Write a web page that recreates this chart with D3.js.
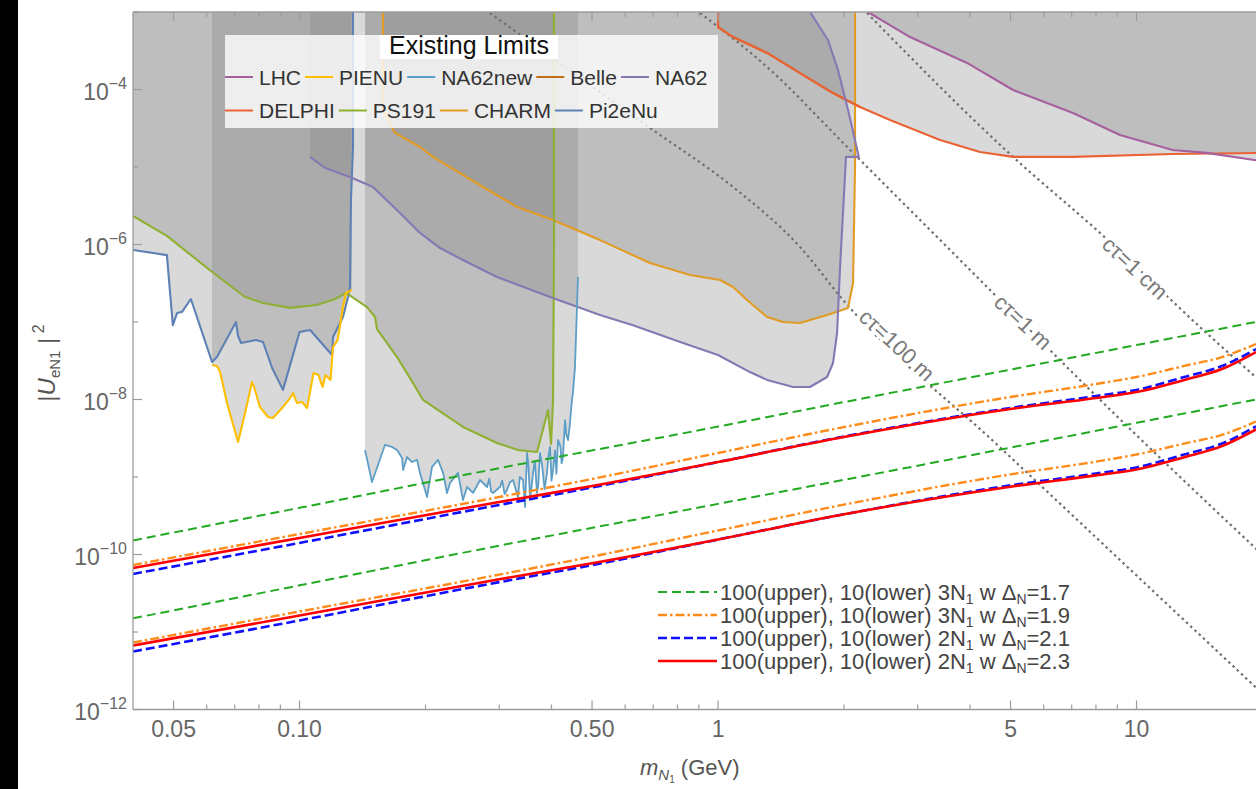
<!DOCTYPE html>
<html>
<head>
<meta charset="utf-8">
<script src="https://cdn.jsdelivr.net/npm/d3@7"></script>
<style>
  body { margin: 0; background: #fff; }
  text { font-family: "Liberation Sans", Arial, sans-serif; }
</style>
</head>
<body>
<svg id="chart" width="1256" height="789"></svg>
<script>
// ---- existing limits, [mass GeV, |U|^2] ----
const pi2eNu = [
  [0.04, 8.5e-7], [0.0482, 7.3e-7], [0.0498, 9.1e-8], [0.051, 1.31e-7], [0.0524, 1.35e-7],
  [0.055, 1.98e-7], [0.0618, 3.05e-8], [0.0635, 3.53e-8], [0.0705, 1.0e-7], [0.0713, 6.6e-8],
  [0.0725, 5.36e-8], [0.0787, 5.86e-8], [0.0818, 5.52e-8], [0.086, 2.55e-8], [0.0913, 1.33e-8],
  [0.1, 7.43e-8], [0.106, 7.88e-8], [0.1196, 3.75e-8], [0.1202, 6.4e-8], [0.127, 1.16e-7],
  [0.1306, 2.1e-7], [0.132, 2.83e-7], [0.1327, 3.75e-6], [0.1342, 1.81e-5], [0.1342, 1e-3]
];
const pienu = [
  [0.0618, 2.79e-8], [0.0635, 2.7e-8], [0.0646, 2.26e-8], [0.0671, 9.0e-9], [0.0713, 2.83e-9],
  [0.0741, 6.7e-9], [0.077, 1.68e-8], [0.0779, 1.45e-8], [0.0804, 8.0e-9], [0.0841, 5.94e-9],
  [0.0864, 5.77e-9], [0.0913, 8.0e-9], [0.0949, 1.04e-8], [0.0965, 1.21e-8], [0.0986, 9.0e-9],
  [0.1014, 9.3e-9], [0.1042, 7.76e-9], [0.108, 2.2e-8], [0.111, 2.07e-8], [0.1135, 1.45e-8],
  [0.1153, 2.07e-8], [0.1186, 1.79e-8], [0.1202, 4.75e-8], [0.1233, 5.86e-8], [0.127, 1.56e-7],
  [0.1291, 2.37e-7], [0.1334, 2.59e-7]
];
const ps191 = [
  [0.04, 2.33e-6], [0.0482, 1.29e-6], [0.0614, 4.55e-7], [0.0741, 2.1e-7], [0.0818, 1.76e-7],
  [0.0949, 1.52e-7], [0.1098, 1.66e-7], [0.1216, 1.98e-7], [0.1291, 2.37e-7], [0.145, 1.56e-7],
  [0.1515, 1.16e-7], [0.1532, 8.1e-8], [0.171, 3.53e-8], [0.1837, 1.89e-8], [0.1973, 9.86e-9],
  [0.2458, 4.42e-9], [0.2964, 2.75e-9], [0.3327, 2.23e-9], [0.3694, 2.1e-9], [0.3925, 7.3e-9],
  [0.399, 2.67e-9], [0.4034, 9.9e-9], [0.4057, 1.14e-6], [0.4057, 1e-3]
];
const na62new = [
  [0.1434, 2.23e-9], [0.149, 8.6e-10], [0.16, 2.59e-9], [0.1663, 2.44e-9], [0.171, 2.23e-9],
  [0.1758, 1.76e-9], [0.1768, 1.23e-9], [0.1807, 1.81e-9], [0.1857, 1.56e-9], [0.191, 1.66e-9],
  [0.194, 1.13e-9], [0.1995, 6.8e-10], [0.2017, 5.52e-10], [0.2073, 1.35e-9], [0.2142, 1.66e-9],
  [0.2203, 1.13e-9], [0.2251, 6.22e-10], [0.2289, 8.37e-10], [0.2391, 1.13e-9], [0.2458, 5.05e-10],
  [0.2513, 7.43e-10], [0.2598, 6.22e-10], [0.27, 9.15e-10], [0.2806, 7.43e-10], [0.284, 9.5e-10],
  [0.287, 6.5e-10], [0.29, 6.22e-10], [0.3013, 7.43e-10], [0.305, 9.0e-10], [0.309, 6.0e-10],
  [0.3131, 6.8e-10], [0.318, 8.5e-10], [0.3237, 9.15e-10], [0.3327, 5.52e-10], [0.336, 1.0e-9],
  [0.342, 9.15e-10], [0.3458, 4.1e-10], [0.3497, 2.04e-9], [0.352, 1.5e-9], [0.3555, 5.52e-10],
  [0.358, 7.0e-10], [0.3614, 1.13e-9], [0.365, 1.6e-9], [0.3694, 6.22e-10], [0.372, 8.0e-10],
  [0.3755, 2.04e-9], [0.38, 1.4e-9], [0.385, 7.0e-10], [0.3903, 1.13e-9], [0.393, 1.8e-9],
  [0.3968, 2.44e-9], [0.40, 9.0e-10], [0.4034, 1.23e-9], [0.408, 2.2e-9], [0.411, 1.1e-9],
  [0.4147, 3.0e-9], [0.42, 2.5e-9], [0.423, 1.5e-9], [0.4261, 1.81e-9], [0.4309, 5.43e-9],
  [0.434, 3.5e-9], [0.4381, 3.0e-9], [0.442, 4.5e-9], [0.4477, 9.86e-9], [0.45, 1.2e-8],
  [0.4552, 2.62e-8], [0.4602, 1.56e-7], [0.4627, 3.81e-7]
];
const na62 = [
  [0.106, 1.35e-5], [0.1151, 9.7e-6], [0.132, 7.43e-6], [0.1498, 5.52e-6], [0.1738, 2.55e-6],
  [0.194, 1.41e-6], [0.2167, 9.0e-7], [0.2458, 6.3e-7], [0.2964, 3.81e-7], [0.3968, 2.1e-7],
  [0.5224, 1.23e-7], [0.6264, 9.1e-8], [0.8248, 5.36e-8], [1.0, 3.75e-8], [1.192, 2.26e-8],
  [1.31, 1.79e-8], [1.511, 1.45e-8], [1.659, 1.45e-8], [1.822, 1.95e-8], [1.883, 2.96e-8],
  [1.925, 7.2e-8], [1.957, 5.13e-7], [2.022, 1.35e-5], [2.17, 1.35e-5], [2.045, 5.43e-5],
  [1.935, 1.79e-4], [1.831, 4.35e-4], [1.659, 1e-3]
];
const na62FillGap = [0.133, 0.1434];
const charm = [
  [0.1583, 1e-3], [0.1583, 5.43e-5], [0.1691, 2.75e-5], [0.194, 1.81e-5], [0.2084, 1.35e-5],
  [0.2745, 5.52e-6], [0.3309, 3.05e-6], [0.4034, 2.07e-6], [0.5224, 1.14e-6], [0.6879, 5.77e-7],
  [0.857, 4.04e-7], [1.011, 3.48e-7], [1.086, 2.83e-7], [1.173, 1.92e-7], [1.31, 1.16e-7],
  [1.43, 1.0e-7], [1.57, 9.7e-8], [1.822, 1.23e-7], [2.045, 1.52e-7], [2.102, 3.18e-7],
  [2.125, 1.0e-5], [2.125, 1e-3]
];
const delphi = [
  [1.0, 1e-3], [1.0, 6.4e-4], [1.086, 4.75e-4], [1.31, 2.96e-4], [1.57, 1.63e-4], [1.883, 9.0e-5],
  [2.184, 5.94e-5], [2.576, 4.04e-5], [3.393, 2.23e-5], [4.227, 1.56e-5], [5.07, 1.35e-5],
  [7.05, 1.35e-5], [12.2, 1.47e-5], [20, 1.52e-5]
];
const belle = [
  [1.0, 1e-3], [1.0, 6.4e-4], [1.086, 4.75e-4], [1.31, 2.96e-4], [1.57, 1.63e-4], [1.883, 9.0e-5],
  [2.184, 5.94e-5]
];
const lhc = [
  [2.283, 1e-3], [2.876, 4.75e-4], [3.936, 2.2e-4], [5.07, 9.86e-5], [7.05, 4.98e-5],
  [9.13, 2.59e-5], [12.2, 1.66e-5], [14.7, 1.52e-5], [20, 1.19e-5]
];

// ---- decay-length contours ----
const ct100m = [[0.285, 9.7e-4], [0.6994, 3.0e-5], [1.086, 5.52e-6], [1.57, 9.29e-7], [1.99, 1.92e-7], [4.72, 2.41e-9], [20, 1.6e-12]];
const ct1m = [[0.906, 9.7e-4], [1.31, 1.95e-4], [2.068, 1.66e-5], [4.467, 2.59e-7], [7.74, 1.33e-8], [20, 9.9e-11]];
const ct1cm = [[2.27, 9.7e-4], [5.07, 1.35e-5], [8.18, 1.41e-6], [14.7, 7.2e-8], [20, 1.63e-8]];
const ctLabels = ["cτ=100 m", "cτ=1 m", "cτ=1 cm"];
const ctLabelPos = [[2.677, 5.05e-8], [5.36, 1.0e-7], [9.92, 4.98e-7]];

// ---- model curves ----
const sigMass = [0.04, 0.1, 0.3, 0.5, 1, 2, 5, 8, 10, 13, 16, 19.3];
const orangeUpper = [7.32e-11, 1.84e-10, 5.52e-10, 9.43e-10, 2.04e-9, 4.41e-9, 1.077e-8, 1.584e-8, 1.95e-8, 2.71e-8, 3.53e-8, 5.2e-8];
const orangeLower = [7.3e-12, 1.84e-11, 5.5e-11, 9.4e-11, 2.04e-10, 4.4e-10, 1.08e-9, 1.58e-9, 1.95e-9, 2.7e-9, 3.5e-9, 5.2e-9];
const blueUpper = [5.61e-11, 1.41e-10, 4.36e-10, 7.32e-10, 1.56e-9, 3.33e-9, 7.77e-9, 1.11e-8, 1.33e-8, 1.95e-8, 2.7e-8, 4.48e-8];
const blueLower = [5.6e-12, 1.41e-11, 4.4e-11, 7.3e-11, 1.56e-10, 3.3e-10, 7.8e-10, 1.11e-9, 1.33e-9, 1.95e-9, 2.7e-9, 4.5e-9];
const redUpper = [6.7e-11, 1.633e-10, 4.76e-10, 7.66e-10, 1.561e-9, 3.28e-9, 7.54e-9, 1.045e-8, 1.25e-8, 1.785e-8, 2.47e-8, 4.1e-8];
const redLower = [6.7e-12, 1.63e-11, 4.8e-11, 7.7e-11, 1.56e-10, 3.3e-10, 7.5e-10, 1.05e-9, 1.25e-9, 1.8e-9, 2.5e-9, 4.1e-9];
const greenMass = [0.04, 0.1, 0.3, 1, 3, 10, 20];
const greenUpper = [1.52e-10, 4.0e-10, 1.3e-9, 4.47e-9, 1.42e-8, 5.04e-8, 1.04e-7];
const greenLower = [1.5e-11, 4.0e-11, 1.3e-10, 4.5e-10, 1.4e-9, 5.0e-9, 1.04e-8];
const modelLabels = [
  ["3", "1.7"], ["3", "1.9"], ["2", "2.1"], ["2", "2.3"]
];

// ---- ticks ----
const xMajor = [0.05, 0.1, 0.5, 1, 5, 10];
const xMajorText = ["0.05", "0.10", "0.50", "1", "5", "10"];
const xMinor = [0.06, 0.07, 0.08, 0.09, 0.2, 0.3, 0.4, 0.6, 0.7, 0.8, 0.9, 2, 3, 4, 6, 7, 8, 9, 20];
const yLabelExp = [-12, -10, -8, -6, -4];
const yMinorExp = [-11, -9, -7, -5, -3];

// ---- setup ----
const W = 1256, H = 789;
const x = d3.scaleLog().domain([0.04, 20]).range([133, 1262.5]);
const y = d3.scaleLog().domain([1e-12, 1e-3]).range([709.5, 12]);
const topU = 1e-3;
const svg = d3.select("#chart");

svg.append("rect").attr("width", W).attr("height", H).attr("fill", "#fff");
svg.append("rect").attr("width", 18).attr("height", H).attr("fill", "#000");

const defs = svg.append("defs");
defs.append("clipPath").attr("id", "plotClip").append("rect")
  .attr("x", x(0.04)).attr("y", y(topU))
  .attr("width", W - x(0.04)).attr("height", y(1e-12) - y(topU));
const gapClip = defs.append("clipPath").attr("id", "na62Clip");
gapClip.append("rect").attr("x", x(0.04)).attr("y", y(topU))
  .attr("width", x(na62FillGap[0]) - x(0.04)).attr("height", y(1e-12) - y(topU));
gapClip.append("rect").attr("x", x(na62FillGap[1])).attr("y", y(topU))
  .attr("width", W - x(na62FillGap[1])).attr("height", y(1e-12) - y(topU));

const plot = svg.append("g").attr("clip-path", "url(#plotClip)");
const line = d3.line().x(d => x(d[0])).y(d => y(d[1]));
const smooth = d3.line().x(d => x(d[0])).y(d => y(d[1])).curve(d3.curveMonotoneX);

function fillPath(data) {
  const pts = [[data[0][0], topU], ...data, [data[data.length - 1][0], topU]];
  return line(pts) + "Z";
}

// legend order (reversed from this list): LHC ... NA62 / DELPHI ... Pi2eNu
const limits = [
  { name: "Pi2eNu", data: pi2eNu, color: "#5e81b5", fill: true },
  { name: "CHARM", data: charm, color: "#e19c24", fill: true },
  { name: "PS191", data: ps191, color: "#8fb032", fill: true },
  { name: "DELPHI", data: delphi, color: "#eb6235", fill: true },
  { name: "NA62", data: na62, color: "#8778b3", fill: true, clip: "na62Clip" },
  { name: "Belle", data: belle, color: "#c56e1a", fill: false },
  { name: "NA62new", data: na62new, color: "#5d9ec7", fill: true },
  { name: "PIENU", data: pienu, color: "#ffbf00", fill: true },
  { name: "LHC", data: lhc, color: "#a5609d", fill: true }
];

// grey exclusion regions
limits.filter(d => d.fill).forEach(d => {
  const p = plot.append("path")
    .attr("d", fillPath(d.data))
    .attr("fill", "#808080")
    .attr("fill-opacity", 0.3);
  if (d.clip) p.attr("clip-path", `url(#${d.clip})`);
});

// ct contours
[ct100m, ct1m, ct1cm].forEach(d => {
  plot.append("path").attr("d", smooth(d))
    .attr("fill", "none").attr("stroke", "#6e6e6e")
    .attr("stroke-width", 2.2).attr("stroke-dasharray", "2.4,3.4");
});

// limit boundaries (Belle sits under DELPHI)
const drawOrder = ["Belle", "Pi2eNu", "CHARM", "PS191", "DELPHI", "NA62", "NA62new", "PIENU", "LHC"];
drawOrder.map(n => limits.find(d => d.name === n)).forEach(d => {
  plot.append("path").attr("d", line(d.data))
    .attr("fill", "none").attr("stroke", d.color)
    .attr("stroke-width", d.name === "NA62new" ? 1.8 : 2.1)
    .attr("stroke-linejoin", "round");
});

// ct labels
ctLabels.forEach((t, i) => {
  const px = x(ctLabelPos[i][0]), py = y(ctLabelPos[i][1]);
  plot.append("text")
    .attr("transform", `translate(${px},${py}) rotate(43)`)
    .attr("text-anchor", "middle").attr("dy", "0.35em")
    .attr("font-size", 22).attr("fill", "#7a7a7a")
    .attr("stroke", "#fff").attr("stroke-width", 7).attr("paint-order", "stroke")
    .text(t);
});

// model curves
const models = [
  { upper: greenUpper, lower: greenLower, mass: greenMass, color: "#22aa22", width: 2, dash: "9,5" },
  { upper: orangeUpper, lower: orangeLower, mass: sigMass, color: "#ff8c1a", width: 2.4, dash: "9,3,2.5,3" },
  { upper: blueUpper, lower: blueLower, mass: sigMass, color: "#1010ff", width: 2.6, dash: "9,4" },
  { upper: redUpper, lower: redLower, mass: sigMass, color: "#ff0000", width: 2.6, dash: null }
];
models.forEach(m => {
  [m.upper, m.lower].forEach(vals => {
    const pts = m.mass.map((k, i) => [k, vals[i]]);
    plot.append("path").attr("d", smooth(pts))
      .attr("fill", "none").attr("stroke", m.color)
      .attr("stroke-width", m.width)
      .attr("stroke-dasharray", m.dash);
  });
});

// ---- axes ----
const axisColor = "#9c9c9c";
const x0 = x(0.04), yb = y(1e-12), yt = y(topU);
svg.append("line").attr("x1", x0).attr("x2", x0).attr("y1", yt).attr("y2", yb)
  .attr("stroke", axisColor).attr("stroke-width", 1.3);
svg.append("line").attr("x1", x0).attr("x2", W).attr("y1", yb).attr("y2", yb)
  .attr("stroke", axisColor).attr("stroke-width", 1.3);
svg.append("line").attr("x1", x0).attr("x2", W).attr("y1", yt).attr("y2", yt)
  .attr("stroke", axisColor).attr("stroke-width", 1.3);

const ticks = svg.append("g").attr("stroke", axisColor).attr("stroke-width", 1.2);
xMajor.forEach(v => {
  ticks.append("line").attr("x1", x(v)).attr("x2", x(v)).attr("y1", yb).attr("y2", yb - 9);
  ticks.append("line").attr("x1", x(v)).attr("x2", x(v)).attr("y1", yt).attr("y2", yt + 9);
});
xMinor.forEach(v => {
  if (x(v) > W) return;
  ticks.append("line").attr("x1", x(v)).attr("x2", x(v)).attr("y1", yb).attr("y2", yb - 5);
  ticks.append("line").attr("x1", x(v)).attr("x2", x(v)).attr("y1", yt).attr("y2", yt + 5);
});
yLabelExp.forEach(e => {
  const v = Math.pow(10, e);
  ticks.append("line").attr("x1", x0).attr("x2", x0 + 9).attr("y1", y(v)).attr("y2", y(v));
});
yMinorExp.forEach(e => {
  const v = Math.pow(10, e);
  ticks.append("line").attr("x1", x0).attr("x2", x0 + 5).attr("y1", y(v)).attr("y2", y(v));
});

// tick labels
xMajor.forEach((v, i) => {
  svg.append("text").attr("x", x(v)).attr("y", 737)
    .attr("text-anchor", "middle").attr("font-size", 23).attr("fill", "#666")
    .text(xMajorText[i]);
});
yLabelExp.forEach(e => {
  const t = svg.append("text").attr("x", 127).attr("y", y(Math.pow(10, e)) + 10)
    .attr("text-anchor", "end").attr("font-size", 23).attr("fill", "#666");
  t.append("tspan").text("10");
  t.append("tspan").attr("font-size", 16).attr("dy", -11).text("−" + Math.abs(e));
});

// axis titles
const xt = svg.append("text").attr("x", 640).attr("y", 775).attr("font-size", 22).attr("fill", "#555");
xt.append("tspan").attr("font-style", "italic").text("m");
xt.append("tspan").attr("font-style", "italic").attr("font-size", 15).attr("dy", 5).text("N");
xt.append("tspan").attr("font-size", 10).attr("dy", 3).text("1");
xt.append("tspan").attr("dy", -8).text(" (GeV)");

const yt2 = svg.append("text").attr("transform", "translate(55,363) rotate(-90)")
  .attr("text-anchor", "middle").attr("font-size", 24).attr("fill", "#555");
yt2.append("tspan").text("|");
yt2.append("tspan").attr("font-style", "italic").text("U");
yt2.append("tspan").attr("font-size", 15).attr("dy", 5).text("eN1");
yt2.append("tspan").attr("dy", -5).text(" |");
yt2.append("tspan").attr("font-size", 16).attr("dy", -11).text(" 2");

// ---- existing limits legend ----
const leg = svg.append("g");
leg.append("rect").attr("x", 225).attr("y", 35).attr("width", 493).attr("height", 93)
  .attr("fill", "#fff").attr("fill-opacity", 0.8);
leg.append("rect").attr("x", 380).attr("y", 35).attr("width", 178).attr("height", 24).attr("fill", "#fff");
leg.append("text").attr("x", 469).attr("y", 54).attr("text-anchor", "middle")
  .attr("font-size", 25).attr("fill", "#111").text("Existing Limits");

const legendRows = [limits.slice(4).reverse(), limits.slice(0, 4).reverse()];
legendRows.forEach((row, r) => {
  let cx = 225;
  const cy = 77 + r * 33.5;
  row.forEach(d => {
    leg.append("line").attr("x1", cx).attr("x2", cx + 28).attr("y1", cy).attr("y2", cy)
      .attr("stroke", d.color).attr("stroke-width", 2);
    const t = leg.append("text").attr("x", cx + 34).attr("y", cy + 7.5)
      .attr("font-size", 21).attr("fill", "#333").text(d.name);
    cx += 34 + t.node().getComputedTextLength() + 4;
  });
});

// ---- model legend ----
const mleg = svg.append("g");
models.forEach((m, i) => {
  const cy = 592 + i * 23;
  mleg.append("line").attr("x1", 658).attr("x2", 717).attr("y1", cy).attr("y2", cy)
    .attr("stroke", m.color).attr("stroke-width", m.width).attr("stroke-dasharray", m.dash);
  const t = mleg.append("text").attr("x", 720).attr("y", cy + 7.5)
    .attr("font-size", 22).attr("fill", "#444");
  t.append("tspan").text("100(upper), 10(lower) " + modelLabels[i][0] + "N");
  t.append("tspan").attr("font-size", 14).attr("dy", 4).text("1");
  t.append("tspan").attr("dy", -4).text(" w Δ");
  t.append("tspan").attr("font-size", 14).attr("dy", 4).text("N");
  t.append("tspan").attr("dy", -4).text("=" + modelLabels[i][1]);
});
</script>
</body>
</html>
